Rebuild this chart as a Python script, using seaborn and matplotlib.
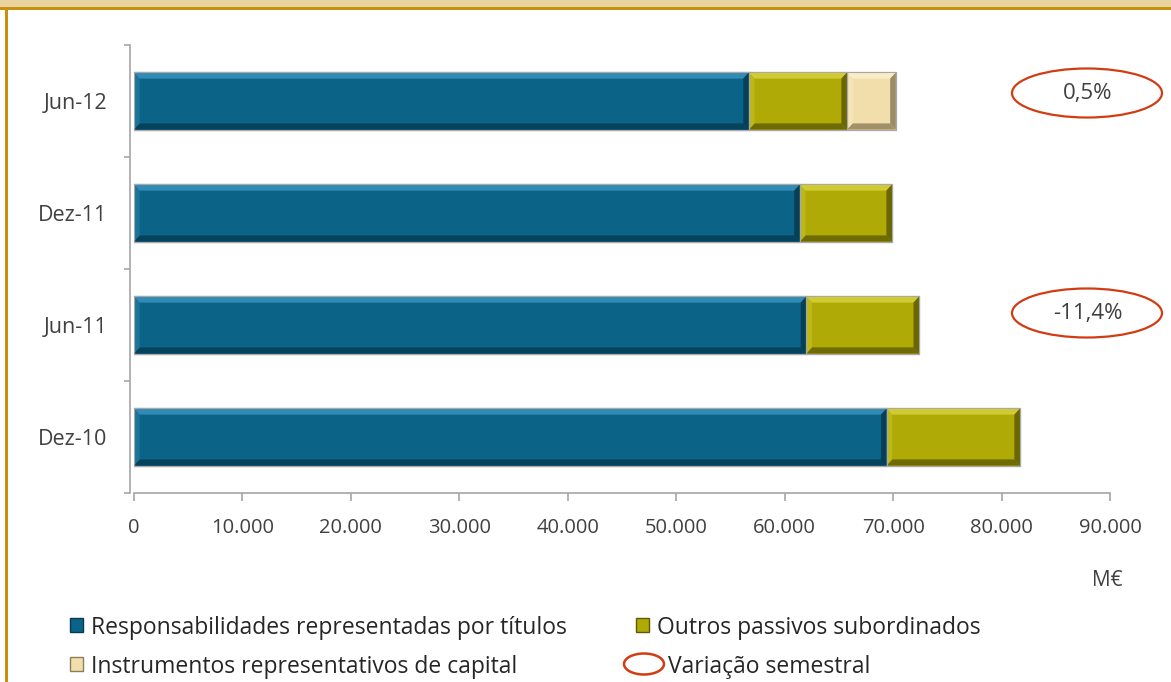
import matplotlib
matplotlib.use("Agg")
import matplotlib.pyplot as plt
from matplotlib.patches import Rectangle, Ellipse, Polygon
import numpy as np
import pandas as pd
import seaborn as sns

# Data (M€)
periodos = ["Jun-12", "Dez-11", "Jun-11", "Dez-10"]
responsabilidades = [56700, 61400, 62000, 69400]
outros_passivos = [9050, 8500, 10400, 12300]
instrumentos = [4500, 0, 0, 0]
variacoes = ["0,5%", "-11,4%"]
variacao_periodos = ["Jun-12", "Jun-11"]
x_ticks = [0, 10000, 20000, 30000, 40000, 50000, 60000, 70000, 80000, 90000]
x_labels = ["0", "10.000", "20.000", "30.000", "40.000", "50.000",
            "60.000", "70.000", "80.000", "90.000"]
series = ["Responsabilidades representadas por títulos",
          "Outros passivos subordinados",
          "Instrumentos representativos de capital"]

c_blue = "#0B6488"
c_olive = "#B0AA06"
c_beige = "#F2DEAA"
colors = [c_blue, c_olive, c_beige]
light = ["#3A93BC", "#D8D23A", "#FBF0CE"]
dark = ["#063A50", "#5E5A04", "#8C7E5C"]

sns.set_theme(style="white")
plt.rcParams["font.family"] = ["Open Sans", "DejaVu Sans"]

W, H = 1171, 682
fig = plt.figure(figsize=(W / 100, H / 100), dpi=100)
ax = fig.add_axes([134 / W, 189 / H, 976 / W, 448 / H])

df = pd.DataFrame({"periodo": periodos,
                   "r": responsabilidades,
                   "o": outros_passivos,
                   "i": instrumentos})
df["c1"] = df["r"]
df["c2"] = df["r"] + df["o"]
df["c3"] = df["c2"] + df["i"]

bar_h = 0.51
# stacked bars drawn as overlapping cumulative totals
for col, color in zip(["c3", "c2", "c1"], [c_beige, c_olive, c_blue]):
    sns.barplot(data=df, y="periodo", x=col, order=periodos, color=color,
                width=bar_h, saturation=1, edgecolor="#9C9C9C", linewidth=0.8,
                ax=ax, orient="h")

# bevel shading on each segment
bx, by = 520, 0.055
for idx, row in df.iterrows():
    segs = [(0, row["c1"]), (row["c1"], row["c2"]), (row["c2"], row["c3"])]
    yc = idx
    y0, y1 = yc + bar_h / 2, yc - bar_h / 2  # y0 bottom (inverted axis), y1 top
    for k, (a, b) in enumerate(segs):
        if b - a <= 0:
            continue
        # top highlight
        ax.add_patch(Polygon([(a, y1), (b, y1), (b - bx, y1 + by), (a + bx, y1 + by)],
                             closed=True, facecolor=light[k], edgecolor="none", alpha=0.85, zorder=3))
        # bottom shadow
        ax.add_patch(Polygon([(a, y0), (b, y0), (b - bx, y0 - by), (a + bx, y0 - by)],
                             closed=True, facecolor=dark[k], edgecolor="none", alpha=0.8, zorder=3))
        # right shadow
        ax.add_patch(Polygon([(b, y0), (b, y1), (b - bx, y1 + by), (b - bx, y0 - by)],
                             closed=True, facecolor=dark[k], edgecolor="none", alpha=0.85, zorder=3))
        # left edge
        ax.add_patch(Polygon([(a, y0), (a, y1), (a + bx, y1 + by), (a + bx, y0 - by)],
                             closed=True, facecolor=light[k], edgecolor="none", alpha=0.35, zorder=3))
        ax.add_patch(Rectangle((a, y1), b - a, bar_h, facecolor="none",
                               edgecolor="#A8A8A8", linewidth=0.8, zorder=4))

ax.set_xlim(0, 90000)
ax.set_ylim(3.5, -0.5)
ax.set_xticks(x_ticks)
ax.set_xticklabels(x_labels)
ax.set_yticks(range(len(periodos)))
ax.set_yticklabels(periodos)
ax.set_yticks(np.arange(-0.5, len(periodos), 1.0), minor=True)
ax.set_xlabel("")
ax.set_ylabel("")
for s in ["top", "right"]:
    ax.spines[s].set_visible(False)
for s in ["left", "bottom"]:
    ax.spines[s].set_color("#A6A6A6")
    ax.spines[s].set_linewidth(1.2)
ax.spines["left"].set_position(("outward", 3))
ax.tick_params(axis="y", which="major", length=0, pad=16, labelsize=15.5, labelcolor="#404040")
ax.tick_params(axis="y", which="minor", length=4, width=1.2, color="#A6A6A6", left=True)
ax.tick_params(axis="x", which="major", length=6, width=1.2, color="#A6A6A6", bottom=True,
               direction="out", labelsize=14.5, labelcolor="#404040", pad=12)
ax.grid(False)

fig.text(1107 / W, 1 - 580 / H, "M€", ha="center", va="center", fontsize=15, color="#404040")

# semiannual variation ellipses
for txt, per in zip(variacoes, variacao_periodos):
    yc = {"Jun-12": 93, "Jun-11": 313}[per]
    fig.patches.append(Ellipse((1087 / W, 1 - yc / H), 150 / W, 49 / H,
                               transform=fig.transFigure, facecolor="white",
                               edgecolor="#D23C12", linewidth=1.6))
    fig.text(1088 / W, 1 - yc / H, txt, ha="center", va="center",
             fontsize=16, color="#404040")

# frame
fig.patches.append(Rectangle((0, 1 - 7 / H), 1, 7 / H, transform=fig.transFigure,
                             facecolor="#E9D39F", edgecolor="none"))
fig.patches.append(Rectangle((0, 1 - 10 / H), 1, 3 / H, transform=fig.transFigure,
                             facecolor="#C8900F", edgecolor="none"))
fig.patches.append(Rectangle((5 / W, 0), 2.5 / W, 1 - 7 / H, transform=fig.transFigure,
                             facecolor="#C8900F", edgecolor="none"))

# legend
leg_font = dict(fontsize=16.5, color="#262626", va="center", ha="left")
entries = [(70, 625, 0, series[0]), (636, 625, 1, series[1]), (70, 664, 2, series[2])]
for px, py, k, label in entries:
    fig.patches.append(Rectangle((px / W, 1 - (py + 7) / H), 13 / W, 14 / H,
                                 transform=fig.transFigure, facecolor=colors[k],
                                 edgecolor=dark[k], linewidth=1.0))
    fig.text((px + 21) / W, 1 - (py + 3) / H, label, **leg_font)
fig.patches.append(Ellipse((644 / W, 1 - 664 / H), 40 / W, 21 / H,
                           transform=fig.transFigure, facecolor="white",
                           edgecolor="#D23C12", linewidth=1.8))
fig.text(668 / W, 1 - 667 / H, "Variação semestral", **leg_font)

fig.savefig("out.png", dpi=100, facecolor="white")
